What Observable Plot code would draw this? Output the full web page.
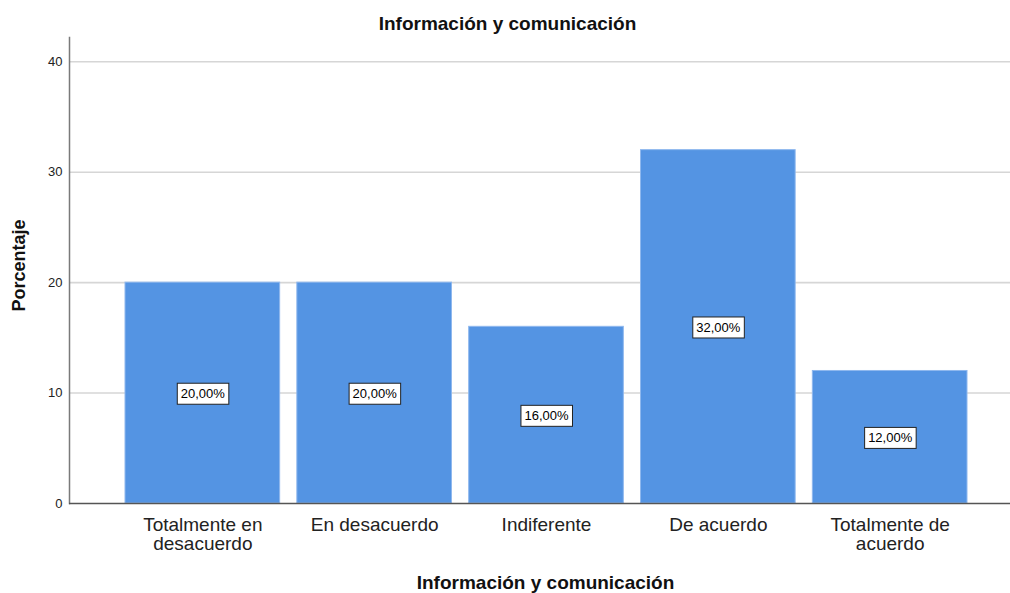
<!DOCTYPE html>
<html>
<head>
<meta charset="utf-8">
<script src="https://cdn.jsdelivr.net/npm/d3@7"></script>
<script src="https://cdn.jsdelivr.net/npm/@observablehq/plot@0.6"></script>
<style>
  html, body { margin: 0; padding: 0; background: #fff; }
  #chart { width: 1010px; font-family: "Liberation Sans", Arial, sans-serif; }
  #title {
    height: 21px; padding-top: 15px; padding-left: 5px;
    line-height: 18px; font-size: 19px; font-weight: bold;
    text-align: center; color: #111;
  }
  svg g[aria-label="x-axis tick label"] text { font-size: 19px; }
  svg g[aria-label="y-axis tick label"] text { font-size: 13px; }
</style>
</head>
<body>
<div id="chart">
  <div id="title">Información y comunicación</div>
</div>
<script>
// Response categories, their tick labels (with line breaks) and percentages
const categories = ["Totalmente en desacuerdo", "En desacuerdo", "Indiferente", "De acuerdo", "Totalmente de acuerdo"];
const tickLabels = ["Totalmente en\ndesacuerdo", "En desacuerdo", "Indiferente", "De acuerdo", "Totalmente de\nacuerdo"];
const percentages = [20, 20, 16, 32, 12];
const yTicks = [0, 10, 20, 30, 40];

const rows = categories.map((c, i) => ({category: c, value: percentages[i]}));
const labelOf = new Map(categories.map((c, i) => [c, tickLabels[i]]));
const pct = v => v.toFixed(2).replace(".", ",") + "%";

const chart = Plot.plot({
  width: 1010,
  height: 557,
  marginLeft: 69,
  marginRight: 0,
  marginTop: 1,
  marginBottom: 90,
  style: {fontFamily: "Liberation Sans, Arial, sans-serif", color: "#222", background: "#fff"},
  x: {domain: categories, range: [125, 967], paddingInner: 0.1, paddingOuter: 0, round: false},
  y: {domain: [0, 42.2]},
  marks: [
    Plot.ruleY(yTicks.filter(t => t > 0), {stroke: "#d6d6d6", strokeWidth: 1.6}),
    Plot.barY(rows, {x: "category", y: "value", fill: "#5494e3", stroke: "#8fb8ee", strokeWidth: 1}),
    Plot.frame({anchor: "left", stroke: "#7a7a7a", strokeWidth: 1.5}),
    Plot.ruleY([0], {stroke: "#555", strokeWidth: 1.5}),
    Plot.axisY({ticks: yTicks, tickSize: 0, tickPadding: 7, fontSize: 13, label: null, fill: "#222"}),
    Plot.axisX({tickSize: 0, tickPadding: 14, fontSize: 19, lineHeight: 1, label: null,
                tickFormat: d => labelOf.get(d), fill: "#222"}),
    Plot.text(rows, {x: "category", y: d => d.value / 2, text: d => pct(d.value),
                     fontSize: 13, fill: "#000", lineAnchor: "middle", dy: 1}),
    Plot.text(["Porcentaje"], {frameAnchor: "left", rotate: -90, dx: -50, dy: -5,
                               textAnchor: "middle", lineAnchor: "middle",
                               fontSize: 18, fontWeight: "bold", fill: "#111"}),
    Plot.text(["Información y comunicación"], {frameAnchor: "bottom", dx: 5.5, dy: 85,
                                              fontSize: 19, fontWeight: "bold", fill: "#111"})
  ]
});

document.getElementById("chart").appendChild(chart);

// White boxes with a thin dark border behind each percentage label
const labelGroups = chart.querySelectorAll('g[aria-label="text"]');
const valueLabels = labelGroups[0];
valueLabels.querySelectorAll("text").forEach(t => {
  const b = t.getBBox();
  const w = b.width + 7, h = 21;
  const cx = b.x + b.width / 2, cy = b.y + b.height / 2;
  const r = document.createElementNS("http://www.w3.org/2000/svg", "rect");
  r.setAttribute("x", cx - w / 2);
  r.setAttribute("y", cy - h / 2);
  r.setAttribute("width", w);
  r.setAttribute("height", h);
  r.setAttribute("fill", "#fff");
  r.setAttribute("stroke", "#222");
  r.setAttribute("stroke-width", "1");
  const tr = t.getAttribute("transform");
  if (tr) r.setAttribute("transform", tr);
  t.parentNode.insertBefore(r, t);
});
</script>
</body>
</html>
